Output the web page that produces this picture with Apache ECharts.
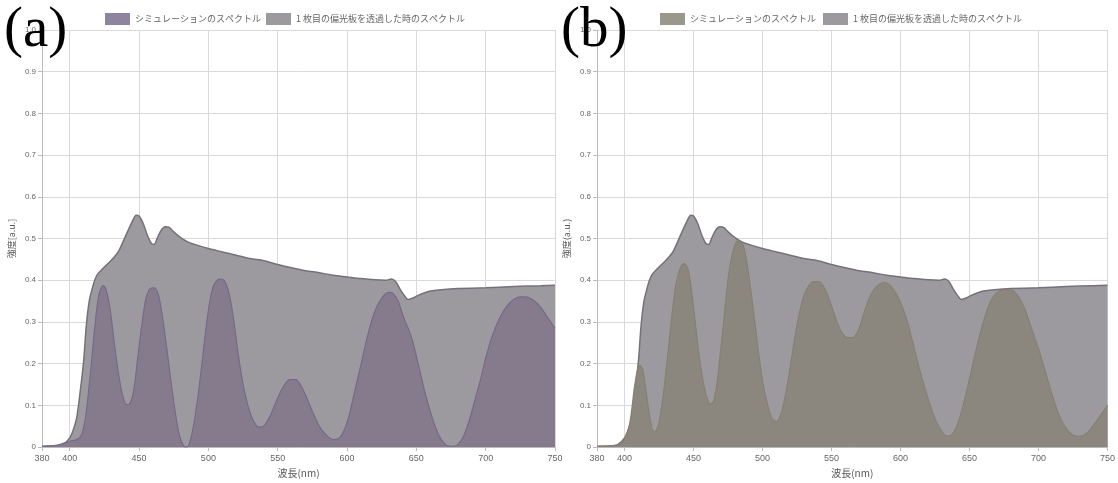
<!DOCTYPE html>
<html>
<head>
<meta charset="utf-8">
<script src="https://cdn.jsdelivr.net/npm/echarts@6/dist/echarts.min.js"></script>
<style>
  html, body { margin: 0; padding: 0; background: #fff; }
  #chart { width: 1118px; height: 483px; }
</style>
</head>
<body>
<div id="chart"></div>
<script>
// 1枚目の偏光板を透過した時のスペクトル (both panels)
var grayWl = [380,390,395,400,403,405,407,410,412,414,416,418,420,425,430,435,440,445,448,450,453,456,459,461,463,466,469,472,475,480,485,490,500,510,520,530,540,550,560,570,580,590,600,610,620,628,632,635,638,641,644,648,652,656,660,670,680,700,720,740,750];
var grayVal = [0.002,0.003,0.006,0.022,0.046,0.07,0.118,0.205,0.293,0.349,0.377,0.4,0.414,0.432,0.448,0.468,0.504,0.54,0.556,0.554,0.536,0.508,0.488,0.486,0.5,0.52,0.528,0.526,0.516,0.502,0.492,0.486,0.476,0.468,0.46,0.452,0.447,0.438,0.43,0.423,0.418,0.412,0.408,0.404,0.401,0.4,0.403,0.397,0.38,0.365,0.354,0.358,0.365,0.37,0.374,0.378,0.38,0.382,0.385,0.387,0.388];

// シミュレーションのスペクトル (a)
var simAWl = [380,390,400,405,408,410,412,415,418,421,424,426,429,432,435,438,441,443,446,449,452,455,458,461,464,467,470,473,476,479,482,484,486,489,492,495,498,501,504,508,511,514,517,520,523,526,529,532,535,538,541,545,550,555,559,563,567,571,575,580,585,590,593,597,601,605,610,615,620,625,630,633,637,641,645,648,652,656,660,664,668,672,676,680,684,688,692,696,700,705,710,715,720,725,729,733,737,741,745,750];
var simAVal = [0.002,0.004,0.014,0.018,0.026,0.046,0.086,0.18,0.285,0.365,0.387,0.38,0.333,0.253,0.18,0.126,0.102,0.103,0.134,0.213,0.293,0.357,0.38,0.382,0.365,0.31,0.237,0.158,0.086,0.03,0.004,0.0,0.006,0.046,0.11,0.19,0.277,0.349,0.389,0.403,0.401,0.38,0.333,0.261,0.19,0.134,0.094,0.066,0.05,0.048,0.054,0.078,0.118,0.15,0.162,0.162,0.146,0.118,0.086,0.05,0.029,0.018,0.019,0.034,0.07,0.126,0.197,0.269,0.325,0.357,0.371,0.369,0.349,0.309,0.277,0.245,0.19,0.134,0.086,0.046,0.018,0.004,0.002,0.006,0.026,0.062,0.11,0.158,0.213,0.269,0.309,0.337,0.353,0.36,0.36,0.355,0.345,0.329,0.309,0.285];

// シミュレーションのスペクトル (b)
var simBWl = [380,390,398,400,403,405,407,409,411,413,415,417,419,421,423,425,428,431,434,437,440,443,446,449,452,455,458,461,463,466,469,472,475,478,481,483,486,489,492,495,498,501,504,507,510,513,517,521,525,529,533,537,541,545,549,553,557,561,565,569,573,577,581,585,589,593,597,601,605,610,615,620,625,630,634,638,642,646,650,655,660,665,670,675,680,685,690,695,700,705,710,715,720,725,730,735,740,745,750];
var simBVal = [0.002,0.003,0.008,0.02,0.045,0.085,0.14,0.18,0.196,0.188,0.148,0.1,0.06,0.038,0.04,0.06,0.124,0.212,0.307,0.386,0.426,0.44,0.426,0.363,0.275,0.196,0.14,0.106,0.104,0.132,0.212,0.307,0.403,0.462,0.492,0.495,0.483,0.435,0.363,0.283,0.204,0.14,0.097,0.068,0.062,0.076,0.132,0.212,0.293,0.353,0.384,0.397,0.396,0.38,0.348,0.309,0.277,0.263,0.262,0.277,0.316,0.355,0.379,0.391,0.394,0.386,0.367,0.339,0.3,0.236,0.172,0.116,0.068,0.037,0.026,0.033,0.061,0.108,0.164,0.236,0.3,0.348,0.371,0.377,0.377,0.363,0.332,0.284,0.236,0.18,0.124,0.076,0.045,0.029,0.026,0.033,0.053,0.076,0.1];

var xTicks = [380,400,450,500,550,600,650,700,750];
var seriesNames = ['シミュレーションのスペクトル', '1 枚目の偏光板を透過した時のスペクトル'];
var panelLabels = ['(a)', '(b)'];

function pairs(xs, ys) {
  var res = [];
  for (var i = 0; i < xs.length; i++) res.push([xs[i], ys[i]]);
  return res;
}

var jpFont = '"Noto Sans CJK JP", "Noto Sans", sans-serif';
var grayFill = '#9c9a9e', grayLine = '#75707a';
var simColors = [
  { fill: '#867b8d', line: '#76698a', legend: '#8f84a0' },
  { fill: '#8b877f', line: '#86806f', legend: '#9a978c' }
];

function makeX(idx) {
  return {
    gridIndex: idx, type: 'value', min: 380, max: 750,
    name: '波長(nm)', nameLocation: 'middle', nameGap: 19,
    nameTextStyle: { color: '#555', fontSize: 10, fontFamily: jpFont },
    axisLine: { lineStyle: { color: '#bbb' } },
    axisTick: { show: true, customValues: xTicks, length: 4, lineStyle: { color: '#bbb' } },
    axisLabel: { customValues: xTicks, color: '#666', fontSize: 9, margin: 7 },
    splitLine: { show: true, lineStyle: { color: '#d9d9d9' } }
  };
}
function makeY(idx, name) {
  return {
    gridIndex: idx, type: 'value', min: 0, max: 1, interval: 0.1,
    name: name, nameLocation: 'middle', nameGap: 26,
    nameTextStyle: { color: '#555', fontSize: 9, fontFamily: jpFont },
    axisLine: { show: true, lineStyle: { color: '#bbb' } },
    axisTick: { show: true, length: 4, lineStyle: { color: '#bbb' } },
    axisLabel: { color: '#666', fontSize: 8, margin: 6,
      formatter: function (v) { return v === 1 ? '1.0' : String(+v.toFixed(1)); } },
    splitLine: { show: true, lineStyle: { color: '#d9d9d9' } }
  };
}

var sims = [pairs(simAWl, simAVal), pairs(simBWl, simBVal)];
var series = [];
for (var p = 0; p < 2; p++) {
  series.push({
    name: seriesNames[1], type: 'line', xAxisIndex: p, yAxisIndex: p,
    smooth: 0.3, symbol: 'none', data: pairs(grayWl, grayVal),
    lineStyle: { color: grayLine, width: 1.5 },
    itemStyle: { color: grayFill, borderColor: grayLine },
    areaStyle: { color: grayFill, opacity: 1 }, z: 2
  });
  series.push({
    name: seriesNames[0] + (p === 1 ? ' ' : ''), type: 'line', xAxisIndex: p, yAxisIndex: p,
    smooth: 0.3, symbol: 'none', data: sims[p],
    lineStyle: { color: simColors[p].line, width: 1.2 },
    itemStyle: { color: simColors[p].legend, borderColor: simColors[p].line },
    areaStyle: { color: simColors[p].fill, opacity: 1 }, z: 3
  });
}

var legendBase = {
  top: 8, itemWidth: 25, itemHeight: 12, itemGap: 5,
  icon: 'rect',
  textStyle: { color: '#666', fontSize: 9, fontFamily: jpFont }
};

var chart = echarts.init(document.getElementById('chart'), null, { renderer: 'canvas' });
chart.setOption({
  backgroundColor: '#fff',
  animation: false,
  legend: [
    Object.assign({}, legendBase, { left: 100, data: [seriesNames[0], seriesNames[1]] }),
    Object.assign({}, legendBase, { left: 655, data: [seriesNames[0] + ' ', seriesNames[1]] })
  ],
  grid: [
    { left: 42, right: 563, top: 30, bottom: 29 },
    { left: 597, right: 8, top: 30, bottom: 29 }
  ],
  xAxis: [makeX(0), makeX(1)],
  yAxis: [makeY(0, '強度[a.u.]'), makeY(1, '強度(a.u.)')],
  series: series,
  graphic: [
    { type: 'text', left: 4, top: 3, z: 100,
      style: { text: panelLabels[0], font: '57px "Liberation Serif", serif', fill: '#000' } },
    { type: 'text', left: 561, top: 3, z: 100,
      style: { text: panelLabels[1], font: '57px "Liberation Serif", serif', fill: '#000' } }
  ]
});
</script>
</body>
</html>
